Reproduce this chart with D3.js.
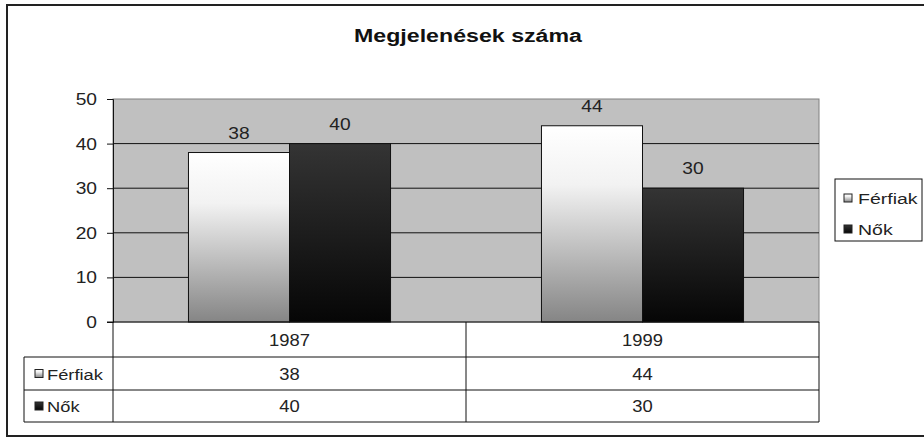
<!DOCTYPE html>
<html>
<head>
<meta charset="utf-8">
<script src="https://cdn.jsdelivr.net/npm/d3@7"></script>
<style>
  body { margin: 0; background: #fff; }
  text { font-family: "Liberation Sans", Arial, sans-serif; fill: #222; }
</style>
</head>
<body>
<div id="chart"></div>
<script>
const years = ["1987", "1999"];
const series = ["Férfiak", "Nők"];
const ferfiak = [38, 44];
const nok = [40, 30];
const yTicks = [0, 10, 20, 30, 40, 50];

const width = 924;
const height = 438;
const plot = { left: 113, right: 819, top: 99, bottom: 322 };

const svg = d3.select("div#chart").append("svg")
    .attr("width", width)
    .attr("height", height);

// the picture is a bit wide, so the text is drawn stretched sideways
function putText(parent, x, y, txt, size, sx, anchor) {
    return parent.append("text")
        .attr("transform", `translate(${x},${y}) scale(${sx},1)`)
        .attr("text-anchor", anchor || "start")
        .style("font-size", size + "px")
        .text(txt);
}

const defs = svg.append("defs");
const g1 = defs.append("linearGradient").attr("id", "gFerfi")
    .attr("x1", 0).attr("y1", 0).attr("x2", 0).attr("y2", 1);
g1.append("stop").attr("offset", "0%").attr("stop-color", "#ffffff");
g1.append("stop").attr("offset", "30%").attr("stop-color", "#f2f2f2");
g1.append("stop").attr("offset", "100%").attr("stop-color", "#858585");
const g2 = defs.append("linearGradient").attr("id", "gNo")
    .attr("x1", 0).attr("y1", 0).attr("x2", 0).attr("y2", 1);
g2.append("stop").attr("offset", "0%").attr("stop-color", "#343434");
g2.append("stop").attr("offset", "100%").attr("stop-color", "#060606");
const fills = ["url(#gFerfi)", "url(#gNo)"];

// outer frame
svg.append("rect")
    .attr("x", 7).attr("y", 5)
    .attr("width", 940).attr("height", 431)
    .attr("fill", "none")
    .attr("stroke", "#222")
    .attr("stroke-width", 2);

// title
putText(svg, 468, 42, "Megjelenések száma", 19, 1.22, "middle")
    .style("font-weight", "bold")
    .style("fill", "#111");

const x0 = d3.scaleBand().domain(years).range([plot.left, plot.right]);
const x1 = d3.scaleBand().domain(series).range([0, x0.bandwidth()]).paddingOuter(0.747);
const y = d3.scaleLinear().domain([0, 50]).range([plot.bottom, plot.top]);

// plot area background
svg.append("rect")
    .attr("x", plot.left).attr("y", plot.top)
    .attr("width", plot.right - plot.left)
    .attr("height", plot.bottom - plot.top)
    .attr("fill", "#c0c0c0")
    .attr("stroke", "#808080");

// gridlines
svg.append("g").selectAll("line")
    .data(yTicks.filter(d => d > 0 && d < 50))
    .join("line")
    .attr("x1", plot.left).attr("x2", plot.right)
    .attr("y1", d => y(d)).attr("y2", d => y(d))
    .attr("stroke", "#111");

// bars
const values = [ferfiak, nok];
const bars = svg.append("g");
years.forEach((yr, i) => {
    series.forEach((s, j) => {
        const v = values[j][i];
        bars.append("rect")
            .attr("x", x0(yr) + x1(s))
            .attr("y", y(v))
            .attr("width", x1.bandwidth())
            .attr("height", y(0) - y(v))
            .attr("fill", fills[j])
            .attr("stroke", "#111");
        putText(bars, x0(yr) + x1(s) + x1.bandwidth() / 2, y(v) - 14, v, 16, 1.2, "middle");
    });
});

// y axis
const yAxis = d3.axisLeft(y).tickValues(yTicks).tickSize(6).tickFormat("");
const yAxisGroup = svg.append("g")
    .attr("transform", `translate(${plot.left},0)`)
    .call(yAxis);
yAxisGroup.select(".domain").attr("stroke", "#111");
yAxisGroup.selectAll(".tick line").attr("stroke", "#111");
yTicks.forEach(t => putText(svg, 97, y(t) + 6, t, 16, 1.2, "end"));

// data table
const rowTop = [322, 357, 390];
const rowBottom = 422;
const tableLeft = 24;
const table = svg.append("g").attr("stroke", "#111").attr("fill", "none");
table.append("line").attr("x1", plot.left - 6).attr("x2", plot.right).attr("y1", rowTop[0]).attr("y2", rowTop[0]);
table.append("line").attr("x1", tableLeft).attr("x2", plot.right).attr("y1", rowTop[1]).attr("y2", rowTop[1]);
table.append("line").attr("x1", tableLeft).attr("x2", plot.right).attr("y1", rowTop[2]).attr("y2", rowTop[2]);
table.append("line").attr("x1", tableLeft).attr("x2", plot.right).attr("y1", rowBottom).attr("y2", rowBottom);
table.append("line").attr("x1", tableLeft).attr("x2", tableLeft).attr("y1", rowTop[1]).attr("y2", rowBottom);
[plot.left, x0("1999"), plot.right].forEach(xx => {
    table.append("line").attr("x1", xx).attr("x2", xx).attr("y1", rowTop[0]).attr("y2", rowBottom);
});

const tableText = svg.append("g");
years.forEach((yr, i) => {
    const cx = x0(yr) + x0.bandwidth() / 2;
    putText(tableText, cx, (rowTop[0] + rowTop[1]) / 2 + 6, yr, 16, 1.15, "middle");
    putText(tableText, cx, (rowTop[1] + rowTop[2]) / 2 + 6, ferfiak[i], 16, 1.15, "middle");
    putText(tableText, cx, (rowTop[2] + rowBottom) / 2 + 6, nok[i], 16, 1.15, "middle");
});

// row keys in table
const rowMid = [(rowTop[1] + rowTop[2]) / 2, (rowTop[2] + rowBottom) / 2];
series.forEach((s, j) => {
    svg.append("rect")
        .attr("x", 35).attr("y", rowMid[j] - 4)
        .attr("width", 8).attr("height", 8)
        .attr("fill", fills[j])
        .attr("stroke", "#222");
    putText(svg, 47, rowMid[j] + 6, s, 15, 1.22);
});

// legend
const legend = svg.append("g");
legend.append("rect")
    .attr("x", 835).attr("y", 179)
    .attr("width", 87).attr("height", 62)
    .attr("fill", "#fff")
    .attr("stroke", "#111");
const legendY = [198, 229];
series.forEach((s, j) => {
    legend.append("rect")
        .attr("x", 844).attr("y", legendY[j] - 4)
        .attr("width", 8).attr("height", 8)
        .attr("fill", fills[j])
        .attr("stroke", "#222");
    putText(legend, 858, legendY[j] + 6, s, 15, 1.3);
});
</script>
</body>
</html>
